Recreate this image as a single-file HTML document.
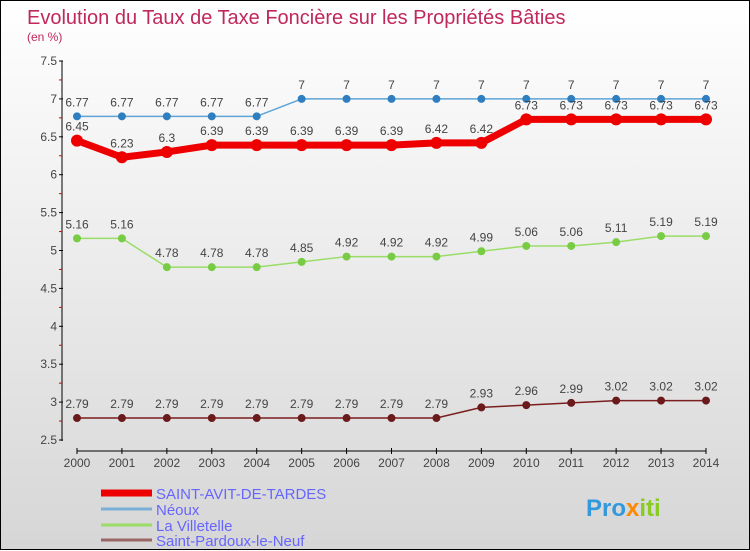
<!DOCTYPE html>
<html><head><meta charset="utf-8"><style>
html,body{margin:0;padding:0}
body{width:750px;height:550px;overflow:hidden;font-family:"Liberation Sans",sans-serif}
#wrap{position:relative;width:748px;height:548px;border:1px solid #000;background:linear-gradient(#ffffff,#d6d6d6)}
svg{position:absolute;left:0;top:0}
</style></head><body>
<div id="wrap">
<svg id="c" width="750" height="550">
<text x="26" y="23" font-size="20" fill="#c0285a">Evolution du Taux de Taxe Foncière sur les Propriétés Bâties</text>
<text x="26" y="40" font-size="12" fill="#c0285a">(en %)</text>
</svg>
</div>
<script>
const years=[2000,2001,2002,2003,2004,2005,2006,2007,2008,2009,2010,2011,2012,2013,2014];
const yTicks=[2.5,3,3.5,4,4.5,5,5.5,6,6.5,7,7.5];
const seriesNames=["SAINT-AVIT-DE-TARDES","Néoux","La Villetelle","Saint-Pardoux-le-Neuf"];
const saintAvit=[6.45,6.23,6.3,6.39,6.39,6.39,6.39,6.39,6.42,6.42,6.73,6.73,6.73,6.73,6.73];
const neoux=[6.77,6.77,6.77,6.77,6.77,7,7,7,7,7,7,7,7,7,7];
const villetelle=[5.16,5.16,4.78,4.78,4.78,4.85,4.92,4.92,4.92,4.99,5.06,5.06,5.11,5.19,5.19];
const pardoux=[2.79,2.79,2.79,2.79,2.79,2.79,2.79,2.79,2.79,2.93,2.96,2.99,3.02,3.02,3.02];
const svg=document.getElementById('c');const NS='http://www.w3.org/2000/svg';
function X(i){return 76+i*(705-76)/(years.length-1);}
function Y(v){return 439-(v-2.5)*(379/5);}
function mk(t,a,p){const e=document.createElementNS(NS,t);for(const k in a)e.setAttribute(k,a[k]);(p||svg).appendChild(e);return e;}
// axes
let ax=mk('line',{x1:61,y1:60,x2:61,y2:440,stroke:'#000','stroke-width':1});


yTicks.forEach((v,i)=>{
 mk('line',{x1:58,y1:Y(v),x2:62,y2:Y(v),stroke:'#000'});
 if(i<yTicks.length-1){mk('line',{x1:58,y1:Y(v+0.25),x2:61,y2:Y(v+0.25),stroke:'#d00'});}
 const t=mk('text',{x:56,y:Y(v)+4,'font-size':12,fill:'#444','text-anchor':'end'});t.textContent=String(v);
 
 
});
let xa=mk('line',{x1:76,y1:450,x2:705,y2:450,stroke:'#000'});


years.forEach((yr,i)=>{
 mk('line',{x1:X(i),y1:447,x2:X(i),y2:453,stroke:'#000'});
 const t=mk('text',{x:X(i),y:466,'font-size':12,fill:'#444','text-anchor':'middle'});t.textContent=yr;
 
 
});
function series(data,color,w,r,dot,name){
 const g=mk('g',{});
 
 
 mk('polyline',{points:data.map((v,i)=>X(i)+','+Y(v)).join(' '),fill:'none',stroke:color,'stroke-width':w,'stroke-linejoin':'round'},g);
 data.forEach((v,i)=>{
  const c=mk('circle',{cx:X(i),cy:Y(v),r:r,fill:dot},g);
  
  
  const t=mk('text',{x:X(i),y:Y(v)-10,'font-size':12,fill:'#444','text-anchor':'middle'},g);t.textContent=String(v);
  
  
 });
}
series(neoux,'#5ea5d6',1.5,4,'#2f7fc0','series-neoux');
series(villetelle,'#99dd66',1.5,4,'#77cc44','series-la-villetelle');
series(pardoux,'#7a1e1e',1.5,4,'#6a1a1a','series-saint-pardoux');
series(saintAvit,'#ee0000',7,6,'#ee0000','series-saint-avit');
// legend
const lc=['#ee0000','#7ab0d8','#99dd66','#996666'];const lw=[7,3,3,3];const ly=[492,508,524,539];
seriesNames.forEach((n,i)=>{
 const g=mk('g',{});
 
 
 mk('line',{x1:100,y1:ly[i],x2:151,y2:ly[i],stroke:lc[i],'stroke-width':lw[i]},g);
 const t=mk('text',{x:155,y:ly[i]+6,'font-size':15,fill:'#6666ff'},g);t.textContent=n;
});
// logo
const lg=mk('text',{x:585,y:515,'font-size':24,'font-weight':'bold',fill:'#3399dd'});


lg.innerHTML='Pro<tspan fill="#ff8800">x</tspan><tspan fill="#88cc22">iti</tspan>';
</script>
</body></html>
